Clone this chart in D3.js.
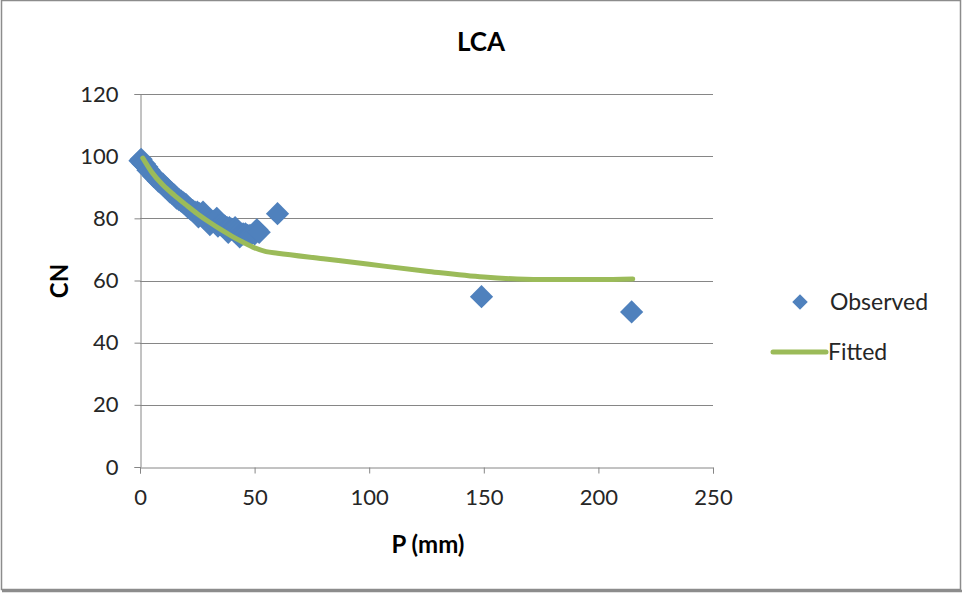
<!DOCTYPE html>
<html>
<head>
<meta charset="utf-8">
<script src="https://cdn.jsdelivr.net/npm/d3@7"></script>
<style>
  body { margin: 0; background: #fff; }
  svg { display: block; }
  text { font-family: Lato, "Open Sans", sans-serif; }
</style>
</head>
<body>
<svg id="chart" width="963" height="596"></svg>
<script>
// ---- data ----
const chartTitle = "LCA";
const xTitle = "P (mm)";
const yTitle = "CN";
const xTicks = [0, 50, 100, 150, 200, 250];
const yTicks = [0, 20, 40, 60, 80, 100, 120];

const observedP = [0, 0.5, 1, 1.5, 2, 3, 3.5, 4, 5, 6, 7, 8, 9, 10, 11, 12, 13, 14, 15, 16,
  17, 18, 19, 20, 21, 22, 23, 24, 25, 25.5, 26, 27, 27.5, 28, 29, 30, 30.5, 31, 32, 33, 33.5, 34,
  35, 36, 37, 38, 38.5, 39, 40, 41, 41.5, 42, 43, 43.5, 44, 45, 46, 47, 48, 50, 51, 52, 60, 149, 214.5];
const observedCN = [98.5, 99, 98, 97.5, 97.5, 96.5, 95.5, 95.5, 94.5, 93.5, 93, 92, 91.5, 91, 90, 89.5, 88.5, 88, 87.5, 86.5,
  86, 85.5, 85, 84.5, 83.5, 83, 82.5, 82, 82, 80.5, 81.5, 81, 82, 80, 80, 79.5, 78, 79, 79, 78.5, 80, 77.5,
  78, 77.5, 77.5, 77, 75.5, 77, 76.5, 76, 77, 76, 75.5, 74, 75, 75, 75, 74.5, 74.5, 75, 76.3, 75.5, 81.5, 54.8, 49.9];

const fittedP = [1.2, 5, 10, 15, 20, 25, 30, 35, 40, 45, 50, 55, 60, 80, 100, 125, 150, 175, 200, 215];
const fittedCN = [99.4, 95, 90.7, 87.4, 84.4, 81.5, 78.9, 76.5, 74.3, 72.3, 70.5, 69.3, 68.8, 67, 65.2, 63, 61.1, 60.3, 60.3, 60.5];

const seriesNames = ["Observed", "Fitted"];
const blue = "#4F81BD", green = "#9BBB59";

// ---- layout ----
const svg = d3.select("#chart");
const plot = { left: 140, right: 713, top: 94, bottom: 467 };

// outer border
svg.append("rect").attr("x", 1.5).attr("y", 0.5).attr("width", 959).attr("height", 589)
  .attr("fill", "#fff").attr("stroke", "#8c8c8c").attr("stroke-width", 1.5);
svg.append("line").attr("x1", 2).attr("x2", 962).attr("y1", 591).attr("y2", 591)
  .attr("stroke", "#8c8c8c").attr("stroke-width", 2.5);

const x = d3.scaleLinear().domain([0, 250]).range([plot.left, plot.right]);
const y = d3.scaleLinear().domain([0, 120]).range([plot.bottom, plot.top]);

// gridlines
svg.append("g").selectAll("line").data(yTicks.filter(d => d > 0)).join("line")
  .attr("x1", plot.left).attr("x2", plot.right)
  .attr("y1", d => Math.round(y(d)) + 0.5).attr("y2", d => Math.round(y(d)) + 0.5)
  .attr("stroke", "#868686").attr("stroke-width", 1);

// y axis
const yAxis = d3.axisLeft(y).tickValues(yTicks).tickSize(6).tickPadding(16);
const gy = svg.append("g").attr("transform", `translate(${plot.left + 0.5},0)`).call(yAxis);
gy.select(".domain").attr("stroke", "#868686");
gy.selectAll(".tick line").attr("stroke", "#868686");
gy.selectAll(".tick text").attr("font-size", 22).attr("fill", "#262626")
  .attr("font-family", "Lato, sans-serif");

// x axis
const xAxis = d3.axisBottom(x).tickValues(xTicks).tickSize(6).tickPadding(16);
const gx = svg.append("g").attr("transform", `translate(0,${plot.bottom + 0.5})`).call(xAxis);
gx.select(".domain").attr("stroke", "#868686");
gx.selectAll(".tick line").attr("stroke", "#868686");
gx.selectAll(".tick text").attr("font-size", 22).attr("fill", "#262626")
  .attr("font-family", "Lato, sans-serif");

// observed diamonds
const diamond = d3.symbol().type(d3.symbolSquare).size(270);
svg.append("g").selectAll("path").data(observedP.map((p, i) => [p, observedCN[i]])).join("path")
  .attr("d", diamond)
  .attr("transform", d => `translate(${x(d[0])},${y(d[1])}) rotate(45)`)
  .attr("fill", blue);

// fitted line
const line = d3.line().x(d => x(d[0])).y(d => y(d[1])).curve(d3.curveMonotoneX);
svg.append("path").datum(fittedP.map((p, i) => [p, fittedCN[i]]))
  .attr("d", line).attr("fill", "none").attr("stroke", green)
  .attr("stroke-width", 5).attr("stroke-linecap", "round");

// titles
svg.append("text").attr("x", 481).attr("y", 51).attr("text-anchor", "middle")
  .attr("font-size", 26).attr("font-weight", "bold").attr("fill", "#000").text(chartTitle);
svg.append("text").attr("x", 428).attr("y", 553).attr("text-anchor", "middle")
  .attr("font-size", 24).attr("font-weight", "bold").attr("fill", "#000").text(xTitle);
svg.append("text").attr("transform", "translate(68,281) rotate(-90)").attr("text-anchor", "middle")
  .attr("font-size", 24).attr("font-weight", "bold").attr("fill", "#000").text(yTitle);

// legend
const lg = svg.append("g");
lg.append("path").attr("d", d3.symbol().type(d3.symbolSquare).size(120))
  .attr("transform", "translate(800,302) rotate(45)").attr("fill", blue);
lg.append("text").attr("x", 830).attr("y", 310).attr("font-size", 23).attr("fill", "#262626").text(seriesNames[0]);
lg.append("line").attr("x1", 773).attr("x2", 826).attr("y1", 352).attr("y2", 352)
  .attr("stroke", green).attr("stroke-width", 5).attr("stroke-linecap", "round");
lg.append("text").attr("x", 828).attr("y", 360).attr("font-size", 23).attr("fill", "#262626").text(seriesNames[1]);
</script>
</body>
</html>
